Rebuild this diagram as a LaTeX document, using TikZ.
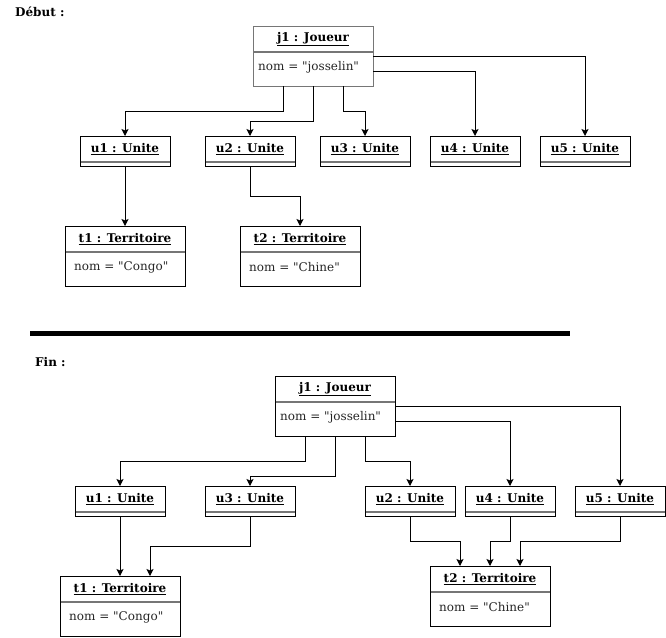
\documentclass[tikz,border=0pt]{standalone}
\usepackage{fontspec}
\setmainfont{DejaVu Serif}[Ligatures=TeXOff]
\usetikzlibrary{calc,arrows.meta}
\definecolor{objgray}{RGB}{118,118,118}
% name, x, y, w, h, title, attr, border colour, attr indent
\newcommand\objbox[9]{%
  \node[draw=#8, line width=1pt, minimum width=#4, minimum height=#5, anchor=north west, inner sep=0pt, outer sep=0pt] (#1) at (#2,#3) {};
  \draw[objgray, line width=1.6pt] ($(#1.north west)+(0.5,26)$) -- ($(#1.north east)+(-0.5,26)$);
  \node[font=\fontsize{12}{14}\selectfont\bfseries, inner sep=0pt] (#1-title) at ($(#1.north)+(0,13)$) {\underline{#6}};
  \node[anchor=west, inner sep=0pt, text=black!85] (#1-attr) at ($(#1.north west)+(#9,41)$) {#7};
}
\begin{document}
\begin{tikzpicture}[x=1pt,y=-1pt,font=\fontsize{12}{14}\selectfont,
  conn/.style={line width=1pt, -{Stealth[length=7pt,width=7pt,inset=1.5pt]}}]
\useasboundingbox (0,0) rectangle (666,637);
% labels
\node[font=\fontsize{12}{14}\selectfont\bfseries, anchor=west, inner sep=0pt] (debut) at (15,12) {Début :};
\node[font=\fontsize{12}{14}\selectfont\bfseries, anchor=west, inner sep=0pt] (fin) at (35,362) {Fin :};
% separator
\coordinate (sepA) at (30,333);
\coordinate (sepB) at (570,333);
\draw[line width=5pt] (sepA) -- (sepB);
% ---- top
\objbox{j1t}{253}{26}{120}{60}{j1 : Joueur}{nom = "josselin"}{objgray}{5}
\objbox{u1t}{80}{136}{90}{30}{u1 : Unite}{}{black}{5}
\objbox{u2t}{205}{136}{90}{30}{u2 : Unite}{}{black}{5}
\objbox{u3t}{320}{136}{90}{30}{u3 : Unite}{}{black}{5}
\objbox{u4t}{430}{136}{90}{30}{u4 : Unite}{}{black}{5}
\objbox{u5t}{540}{136}{90}{30}{u5 : Unite}{}{black}{5}
\objbox{t1t}{65}{226}{120}{60}{t1 : Territoire}{nom = "Congo"}{black}{9}
\objbox{t2t}{240}{226}{120}{60}{t2 : Territoire}{nom = "Chine"}{black}{9}
\draw[conn] ($(j1t.south west)+(30,0)$) -- ++(0,25) -| (u1t.north);
\draw[conn] ($(j1t.south west)+(60,0)$) -- ++(0,35) -| (u2t.north);
\draw[conn] ($(j1t.south west)+(90,0)$) -- ++(0,25) -| (u3t.north);
\draw[conn] ($(j1t.north east)+(0,45)$) -| (u4t.north);
\draw[conn] ($(j1t.north east)+(0,30)$) -| (u5t.north);
\draw[conn] (u1t.south) -- (t1t.north);
\draw[conn] (u2t.south) -- ++(0,30) -| (t2t.north);
% ---- bottom
\objbox{j1b}{275}{376}{120}{60}{j1 : Joueur}{nom = "josselin"}{black}{5}
\objbox{u1b}{75}{486}{90}{30}{u1 : Unite}{}{black}{5}
\objbox{u3b}{205}{486}{90}{30}{u3 : Unite}{}{black}{5}
\objbox{u2b}{365}{486}{90}{30}{u2 : Unite}{}{black}{5}
\objbox{u4b}{465}{486}{90}{30}{u4 : Unite}{}{black}{5}
\objbox{u5b}{575}{486}{90}{30}{u5 : Unite}{}{black}{5}
\objbox{t1b}{60}{576}{120}{60}{t1 : Territoire}{nom = "Congo"}{black}{9}
\objbox{t2b}{430}{566}{120}{60}{t2 : Territoire}{nom = "Chine"}{black}{9}
\draw[conn] ($(j1b.south west)+(30,0)$) -- ++(0,25) -| (u1b.north);
\draw[conn] ($(j1b.south west)+(60,0)$) -- ++(0,40) -| (u3b.north);
\draw[conn] ($(j1b.south west)+(90,0)$) -- ++(0,25) -| (u2b.north);
\draw[conn] ($(j1b.north east)+(0,45)$) -| (u4b.north);
\draw[conn] ($(j1b.north east)+(0,30)$) -| (u5b.north);
\draw[conn] (u1b.south) -- (t1b.north);
\draw[conn] (u3b.south) -- ++(0,30) -| ($(t1b.north)+(30,0)$);
\draw[conn] (u2b.south) -- ++(0,25) -| ($(t2b.north)+(-30,0)$);
\draw[conn] (u4b.south) -- ++(0,25) -| (t2b.north);
\draw[conn] (u5b.south) -- ++(0,25) -| ($(t2b.north)+(30,0)$);
\end{tikzpicture}
\end{document}
